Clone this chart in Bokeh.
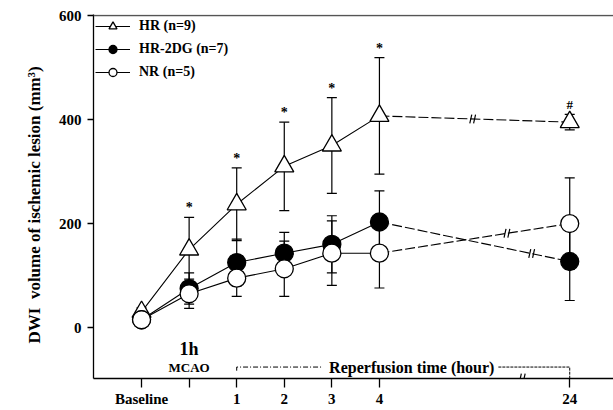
from bokeh.plotting import figure
from bokeh.models import (ColumnDataSource, Whisker, TeeHead, Span, Label, Legend,
                          LegendItem, FixedTicker)
from bokeh.core.properties import value
from bokeh.embed import file_html
from bokeh.resources import INLINE

# ---- data ----
x_pos = [0, 1, 2, 3, 4, 5, 9]
tick_labels = ["Baseline", "", "1", "2", "3", "4", "24"]
hr = [30, 150, 237, 310, 350, 407, 395]
hr_err = [8, 62, 70, 85, 92, 112, 15]
hr2dg = [15, 75, 125, 143, 160, 203, 127]
hr2dg_err = [5, 30, 45, 40, 55, 60, 75]
nr = [15, 65, 95, 113, 143, 143, 200]
nr_err = [5, 28, 35, 53, 62, 67, 88]
hr_sig = ["", "*", "*", "*", "*", "*", "#"]

FONT = "Liberation Serif"

p = figure(width=613, height=410, x_range=(-1.01, 9.92), y_range=(-98, 602),
           output_backend="svg", toolbar_location=None,
           min_border_left=93, min_border_right=0, min_border_top=14, min_border_bottom=32)
p.grid.visible = False
p.outline_line_color = None
p.background_fill_color = "white"

# axes
p.xaxis.ticker = FixedTicker(ticks=x_pos)
p.xaxis.major_label_overrides = {x: l for x, l in zip(x_pos, tick_labels)}
p.yaxis.ticker = FixedTicker(ticks=[0, 200, 400, 600])
for ax in (p.xaxis[0], p.yaxis[0]):
    ax.major_label_text_font = FONT
    ax.major_label_text_font_style = "bold"
    ax.major_label_text_font_size = "15px"
    ax.major_label_text_color = "black"
    ax.axis_line_color = "black"
    ax.axis_line_width = 1.3
    ax.major_tick_line_color = "black"
    ax.major_tick_line_width = 1.3
    ax.major_tick_in = 0
    ax.minor_tick_line_color = None
p.xaxis.major_tick_out = 9
p.xaxis.major_label_standoff = 3
p.yaxis.major_tick_out = 6
p.yaxis.major_label_standoff = 6
p.yaxis.axis_label = "DWI\u00a0 volume of ischemic lesion (mm³)\u00a0\u00a0\u00a0\u00a0"
p.yaxis.axis_label_text_font = FONT
p.yaxis.axis_label_text_font_style = "bold"
p.yaxis.axis_label_text_font_size = "17px"
p.yaxis.axis_label_text_color = "black"
p.yaxis.axis_label_standoff = 12

p.add_layout(Span(location=600, dimension="width", line_color="#555555", line_width=1.6))

# error bars
for ys, es in ((hr, hr_err), (hr2dg, hr2dg_err), (nr, nr_err)):
    src = ColumnDataSource(dict(x=x_pos, up=[a + b for a, b in zip(ys, es)],
                                lo=[a - b for a, b in zip(ys, es)]))
    p.add_layout(Whisker(source=src, base="x", upper="up", lower="lo", level="underlay",
                         line_color="black", line_width=1.2,
                         upper_head=TeeHead(size=10, line_color="black", line_width=1.2),
                         lower_head=TeeHead(size=10, line_color="black", line_width=1.2)))

# lines
series = [("HR (n=9)", hr, "triangle", "white", 19),
          ("HR-2DG (n=7)", hr2dg, "circle", "black", 18),
          ("NR (n=5)", nr, "circle", "white", 18)]
items = []
for lab, ys, mk, fill, sz in series:
    l1 = p.line(x_pos[:6], ys[:6], line_color="black", line_width=1.1)
    p.line(x_pos[5:], ys[5:], line_color="black", line_width=1.1, line_dash="10 3")
    s = p.scatter(x_pos, ys, marker=mk, size=sz, fill_color=fill, line_color="black",
                  line_width=1.3)
    items.append(LegendItem(label=lab, renderers=[l1, s]))

# break marks on the 4h -> 24h segments
for ys, frac in ((hr, 0.49), (nr, 0.67), (hr2dg, 0.80)):
    bx = x_pos[5] + frac * (x_pos[6] - x_pos[5])
    by = ys[5] + frac * (ys[6] - ys[5])
    p.scatter([bx - 0.04, bx + 0.04], [by, by], marker="dash", size=9, angle=1.35,
              line_color="black", line_width=1.2)
# x-axis break
axb = x_pos[5] + 0.75 * (x_pos[6] - x_pos[5])
p.scatter([axb - 0.04, axb + 0.04], [-98, -98], marker="dash", size=10, angle=1.35,
          line_color="black", line_width=1.2)

# significance marks
sig_src = ColumnDataSource(dict(x=x_pos[1:6], y=[a + b for a, b in zip(hr[1:6], hr_err[1:6])],
                                t=hr_sig[1:6]))
p.text(x="x", y="y", text="t", source=sig_src, text_align="center", text_baseline="bottom",
       y_offset=-2, text_font=value(FONT), text_font_style="bold", text_font_size="14px",
       text_color="black")
p.text(x=[x_pos[6]], y=[hr[6]], text=[hr_sig[6]], text_align="center", text_baseline="bottom",
       y_offset=-10, text_font=value(FONT), text_font_style="bold", text_font_size="13px",
       text_color="black")

# annotations
p.add_layout(Label(x=x_pos[1], y=-42, text="1h", text_align="center", text_baseline="middle",
                   text_font=FONT, text_font_style="bold", text_font_size="18px",
                   text_color="black"))
p.add_layout(Label(x=x_pos[1], y=-77, text="MCAO", text_align="center", text_baseline="middle",
                   text_font=FONT, text_font_style="bold", text_font_size="13px",
                   text_color="black"))
p.add_layout(Label(x=5.68, y=-76, text="Reperfusion time (hour)", text_align="center",
                   text_baseline="middle", text_font=FONT, text_font_style="bold",
                   text_font_size="16px", text_color="black"))
by = -76
p.line([x_pos[2], x_pos[2], 3.8], [-83, by, by], line_color="black", line_width=1,
       line_dash="5 2 1 2")
p.line([7.5, x_pos[6], x_pos[6]], [by, by, -98], line_color="black", line_width=1,
       line_dash="3 1")

legend = Legend(items=items, location="top_left", border_line_color=None,
                background_fill_alpha=0, glyph_width=35, glyph_height=20, spacing=3,
                label_standoff=9, padding=5, margin=2,
                label_text_font=FONT, label_text_font_style="bold",
                label_text_font_size="14px", label_text_color="black")
p.add_layout(legend)

open("out.html", "w").write(file_html(p, INLINE))
